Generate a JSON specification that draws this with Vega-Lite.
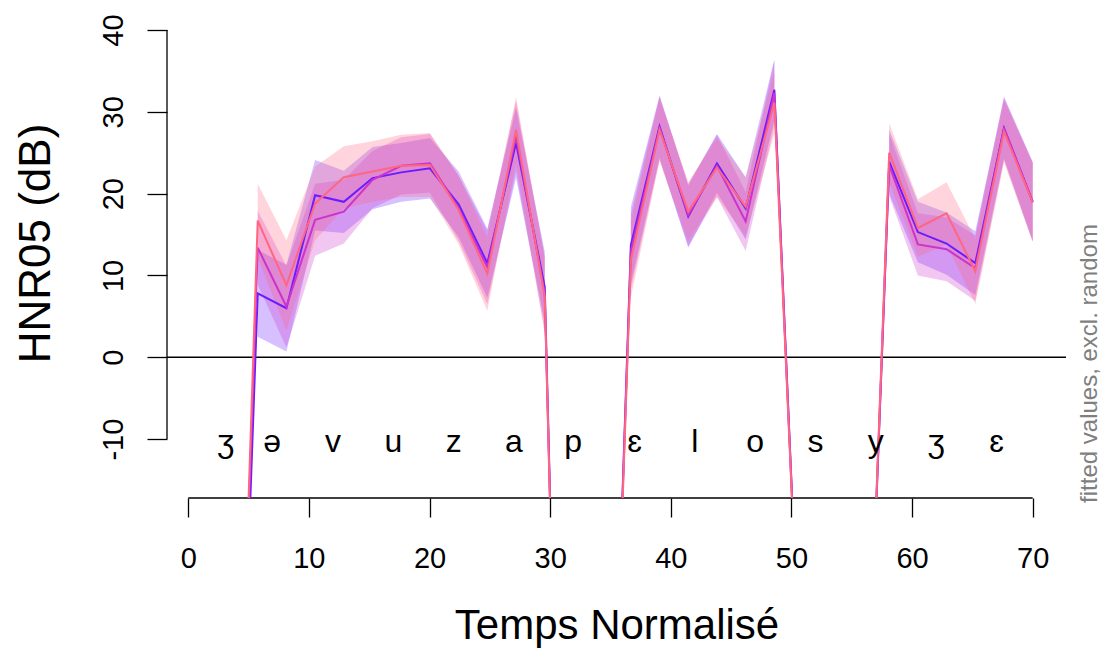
{
  "$schema": "https://vega.github.io/schema/vega-lite/v6.json",
  "width": 899,
  "height": 486,
  "autosize": {"type": "none"},
  "padding": {"left": 167, "top": 12, "right": 37, "bottom": 155},
  "background": "white",
  "config": {"view": {"stroke": null}, "font": "Liberation Sans"},
  "datasets": {
    "fit": [
      {"s":"A","x":1,"y":-90},{"s":"A","x":3.379,"y":-90},
      {"s":"A","x":5.759,"y":7.8,"lo":2.5,"hi":13.1,"g":1},
      {"s":"A","x":8.138,"y":6.0,"lo":0.7,"hi":11.3,"g":1},
      {"s":"A","x":10.517,"y":19.8,"lo":15.5,"hi":24.1,"g":1},
      {"s":"A","x":12.897,"y":19.0,"lo":15.2,"hi":22.8,"g":1},
      {"s":"A","x":15.276,"y":21.9,"lo":18.1,"hi":25.7,"g":1},
      {"s":"A","x":17.655,"y":22.6,"lo":19.0,"hi":26.2,"g":1},
      {"s":"A","x":20.034,"y":23.1,"lo":19.4,"hi":26.8,"g":1},
      {"s":"A","x":22.414,"y":18.7,"lo":14.7,"hi":22.7,"g":1},
      {"s":"A","x":24.793,"y":11.5,"lo":7.3,"hi":15.7,"g":1},
      {"s":"A","x":27.172,"y":26.2,"lo":21.9,"hi":30.5,"g":1},
      {"s":"A","x":29.552,"y":8.6,"lo":4.3,"hi":12.9,"g":1},
      {"s":"A","x":31.931,"y":-130},{"s":"A","x":34.31,"y":-91},
      {"s":"A","x":36.69,"y":13.7,"lo":9.0,"hi":18.4,"g":2},
      {"s":"A","x":39.069,"y":28.2,"lo":24.4,"hi":32.0,"g":2},
      {"s":"A","x":41.448,"y":17.2,"lo":13.4,"hi":21.0,"g":2},
      {"s":"A","x":43.828,"y":23.7,"lo":20.1,"hi":27.3,"g":2},
      {"s":"A","x":46.207,"y":18.2,"lo":14.4,"hi":22.0,"g":2},
      {"s":"A","x":48.586,"y":32.7,"lo":29.0,"hi":36.4,"g":2},
      {"s":"A","x":50.966,"y":-48},{"s":"A","x":53.345,"y":-60},{"s":"A","x":55.724,"y":-69},
      {"s":"A","x":58.103,"y":23.9,"lo":20.0,"hi":27.8,"g":3},
      {"s":"A","x":60.483,"y":15.3,"lo":11.6,"hi":19.0,"g":3},
      {"s":"A","x":62.862,"y":13.9,"lo":10.1,"hi":17.7,"g":3},
      {"s":"A","x":65.241,"y":11.5,"lo":7.6,"hi":15.4,"g":3},
      {"s":"A","x":67.621,"y":28.0,"lo":24.3,"hi":31.7,"g":3},
      {"s":"A","x":70,"y":19.0,"lo":14.2,"hi":23.8,"g":3},

      {"s":"B","x":1,"y":-90},{"s":"B","x":3.379,"y":-90},
      {"s":"B","x":5.759,"y":13.4,"lo":8.9,"hi":17.9,"g":1},
      {"s":"B","x":8.138,"y":6.2,"lo":1.2,"hi":11.2,"g":1},
      {"s":"B","x":10.517,"y":16.8,"lo":12.4,"hi":21.2,"g":1},
      {"s":"B","x":12.897,"y":17.8,"lo":13.9,"hi":21.7,"g":1},
      {"s":"B","x":15.276,"y":21.7,"lo":18.2,"hi":25.2,"g":1},
      {"s":"B","x":17.655,"y":23.4,"lo":19.9,"hi":26.9,"g":1},
      {"s":"B","x":20.034,"y":23.7,"lo":20.1,"hi":27.3,"g":1},
      {"s":"B","x":22.414,"y":18.2,"lo":14.2,"hi":22.2,"g":1},
      {"s":"B","x":24.793,"y":11.0,"lo":6.5,"hi":15.5,"g":1},
      {"s":"B","x":27.172,"y":27.0,"lo":22.7,"hi":31.3,"g":1},
      {"s":"B","x":29.552,"y":7.8,"lo":3.3,"hi":12.3,"g":1},
      {"s":"B","x":31.931,"y":-130},{"s":"B","x":34.31,"y":-91},
      {"s":"B","x":36.69,"y":12.9,"lo":8.3,"hi":17.5,"g":2},
      {"s":"B","x":39.069,"y":28.0,"lo":24.1,"hi":31.9,"g":2},
      {"s":"B","x":41.448,"y":17.4,"lo":13.6,"hi":21.2,"g":2},
      {"s":"B","x":43.828,"y":23.4,"lo":19.6,"hi":27.2,"g":2},
      {"s":"B","x":46.207,"y":16.6,"lo":13.0,"hi":20.2,"g":2},
      {"s":"B","x":48.586,"y":32.3,"lo":28.3,"hi":36.3,"g":2},
      {"s":"B","x":50.966,"y":-48},{"s":"B","x":53.345,"y":-60},{"s":"B","x":55.724,"y":-69},
      {"s":"B","x":58.103,"y":23.5,"lo":19.7,"hi":27.3,"g":3},
      {"s":"B","x":60.483,"y":13.8,"lo":10.0,"hi":17.6,"g":3},
      {"s":"B","x":62.862,"y":13.2,"lo":9.3,"hi":17.1,"g":3},
      {"s":"B","x":65.241,"y":10.9,"lo":6.9,"hi":14.9,"g":3},
      {"s":"B","x":67.621,"y":28.0,"lo":24.1,"hi":31.9,"g":3},
      {"s":"B","x":70,"y":19.0,"lo":14.1,"hi":23.9,"g":3},

      {"s":"C","x":1,"y":-90},{"s":"C","x":3.379,"y":-90},
      {"s":"C","x":5.759,"y":16.7,"lo":12.2,"hi":21.2,"g":1},
      {"s":"C","x":8.138,"y":8.8,"lo":3.3,"hi":14.3,"g":1},
      {"s":"C","x":10.517,"y":18.8,"lo":14.3,"hi":23.3,"g":1},
      {"s":"C","x":12.897,"y":22.0,"lo":18.2,"hi":25.8,"g":1},
      {"s":"C","x":15.276,"y":22.7,"lo":19.0,"hi":26.4,"g":1},
      {"s":"C","x":17.655,"y":23.4,"lo":19.6,"hi":27.2,"g":1},
      {"s":"C","x":20.034,"y":23.5,"lo":19.6,"hi":27.4,"g":1},
      {"s":"C","x":22.414,"y":18.0,"lo":13.8,"hi":22.2,"g":1},
      {"s":"C","x":24.793,"y":10.2,"lo":5.7,"hi":14.7,"g":1},
      {"s":"C","x":27.172,"y":27.8,"lo":23.8,"hi":31.8,"g":1},
      {"s":"C","x":29.552,"y":7.4,"lo":2.8,"hi":12.0,"g":1},
      {"s":"C","x":31.931,"y":-130},{"s":"C","x":34.31,"y":-91},
      {"s":"C","x":36.69,"y":11.9,"lo":7.3,"hi":16.5,"g":2},
      {"s":"C","x":39.069,"y":27.8,"lo":24.0,"hi":31.6,"g":2},
      {"s":"C","x":41.448,"y":17.8,"lo":14.2,"hi":21.4,"g":2},
      {"s":"C","x":43.828,"y":23.2,"lo":19.6,"hi":26.8,"g":2},
      {"s":"C","x":46.207,"y":18.4,"lo":14.8,"hi":22.0,"g":2},
      {"s":"C","x":48.586,"y":31.1,"lo":27.3,"hi":34.9,"g":2},
      {"s":"C","x":50.966,"y":-48},{"s":"C","x":53.345,"y":-60},{"s":"C","x":55.724,"y":-69},
      {"s":"C","x":58.103,"y":25.0,"lo":21.4,"hi":28.6,"g":3},
      {"s":"C","x":60.483,"y":15.8,"lo":12.3,"hi":19.3,"g":3},
      {"s":"C","x":62.862,"y":17.6,"lo":13.8,"hi":21.4,"g":3},
      {"s":"C","x":65.241,"y":10.5,"lo":6.5,"hi":14.5,"g":3},
      {"s":"C","x":67.621,"y":27.6,"lo":23.8,"hi":31.4,"g":3},
      {"s":"C","x":70,"y":18.9,"lo":14.1,"hi":23.7,"g":3}
    ],
    "ph": [
      {"x":3.1,"t":"ʒ"},{"x":6.96,"t":"ə"},{"x":12,"t":"v"},{"x":17,"t":"u"},
      {"x":22,"t":"z"},{"x":27,"t":"a"},{"x":31.9,"t":"p"},{"x":37,"t":"ɛ"},
      {"x":42,"t":"l"},{"x":47,"t":"o"},{"x":52,"t":"s"},{"x":57,"t":"y"},
      {"x":62,"t":"ʒ"},{"x":67,"t":"ɛ"}
    ]
  },
  "layer": [
    {
      "data": {"name": "fit"},
      "transform": [{"filter": "datum.lo != null"}],
      "mark": {"type": "area", "clip": true, "fillOpacity": 0.28, "interpolate": "linear"},
      "encoding": {
        "x": {"field": "x", "type": "quantitative",
          "scale": {"domain": [-1.76, 72.76], "nice": false, "zero": false},
          "axis": {"values": [0,10,20,30,40,50,60,70], "domain": false, "grid": false,
            "tickSize": 19, "tickColor": "black", "tickWidth": 1.3,
            "labelFontSize": 29, "labelColor": "black", "labelPadding": 27, "labelFont": "Liberation Sans",
            "title": "Temps Normalisé", "titleFontSize": 42, "titleFontWeight": "normal", "titleColor": "black",
            "titleFont": "Liberation Sans", "titleY": 140, "titleBaseline": "alphabetic"}},
        "y": {"field": "lo", "type": "quantitative",
          "scale": {"domain": [-17.2, 42.2], "nice": false, "zero": false},
          "axis": {"values": [-10,0,10,20,30,40], "domain": false, "grid": false,
            "tickSize": 20, "tickColor": "black", "tickWidth": 1.3,
            "labelExpr": "'' + datum.value",
            "labelFontSize": 29, "labelColor": "black", "labelAngle": -90, "labelAlign": "center",
            "labelBaseline": "alphabetic", "labelPadding": 25, "labelFont": "Liberation Sans",
            "title": "HNR05 (dB)", "titleFontSize": 44, "titleFontWeight": "normal", "titleColor": "black",
            "titleFont": "Liberation Sans", "titleAngle": -90, "titleX": -118, "titleY": 231,
            "titleBaseline": "alphabetic", "titleAlign": "center"}},
        "y2": {"field": "hi"},
        "color": {"field": "s", "type": "nominal",
          "scale": {"domain": ["A","B","C"], "range": ["#6A1BFF","#CC33CC","#FF6680"]}, "legend": null},
        "detail": {"field": "g"}
      }
    },
    {
      "data": {"values": [{}]},
      "mark": {"type": "rule", "color": "black", "strokeWidth": 1.3},
      "encoding": {"y": {"datum": 0, "type": "quantitative"}}
    },
    {
      "data": {"values": [{}]},
      "mark": {"type": "rule", "color": "black", "strokeWidth": 1.3},
      "encoding": {"x": {"datum": 0, "type": "quantitative"}, "x2": {"datum": 70}, "y": {"datum": -17.2, "type": "quantitative"}}
    },
    {
      "data": {"values": [{}]},
      "mark": {"type": "rule", "color": "black", "strokeWidth": 1.3},
      "encoding": {"x": {"datum": -1.76, "type": "quantitative"}, "y": {"datum": -10, "type": "quantitative"}, "y2": {"datum": 40}}
    },
    {
      "data": {"name": "fit"},
      "transform": [{"filter": "datum.s == 'A'"}],
      "mark": {"type": "line", "clip": true, "color": "#6A1BFF", "strokeWidth": 2},
      "encoding": {"x": {"field": "x", "type": "quantitative"}, "y": {"field": "y", "type": "quantitative"}}
    },
    {
      "data": {"name": "fit"},
      "transform": [{"filter": "datum.s == 'B'"}],
      "mark": {"type": "line", "clip": true, "color": "#CC33CC", "strokeWidth": 2},
      "encoding": {"x": {"field": "x", "type": "quantitative"}, "y": {"field": "y", "type": "quantitative"}}
    },
    {
      "data": {"name": "fit"},
      "transform": [{"filter": "datum.s == 'C'"}],
      "mark": {"type": "line", "clip": true, "color": "#FF6680", "strokeWidth": 2},
      "encoding": {"x": {"field": "x", "type": "quantitative"}, "y": {"field": "y", "type": "quantitative"}}
    },
    {
      "data": {"name": "ph"},
      "mark": {"type": "text", "fontSize": 32, "font": "Liberation Sans", "align": "center", "baseline": "alphabetic", "color": "black"},
      "encoding": {"x": {"field": "x", "type": "quantitative"}, "y": {"datum": -11.55, "type": "quantitative"}, "text": {"field": "t"}}
    },
    {
      "data": {"values": [{}]},
      "mark": {"type": "text", "fontSize": 24, "font": "Liberation Sans", "align": "left", "baseline": "alphabetic", "angle": -90, "color": "#7f7f7f", "text": "fitted values, excl. random"},
      "encoding": {"x": {"datum": 75.32, "type": "quantitative"}, "y": {"datum": -17.8, "type": "quantitative"}}
    }
  ]
}
